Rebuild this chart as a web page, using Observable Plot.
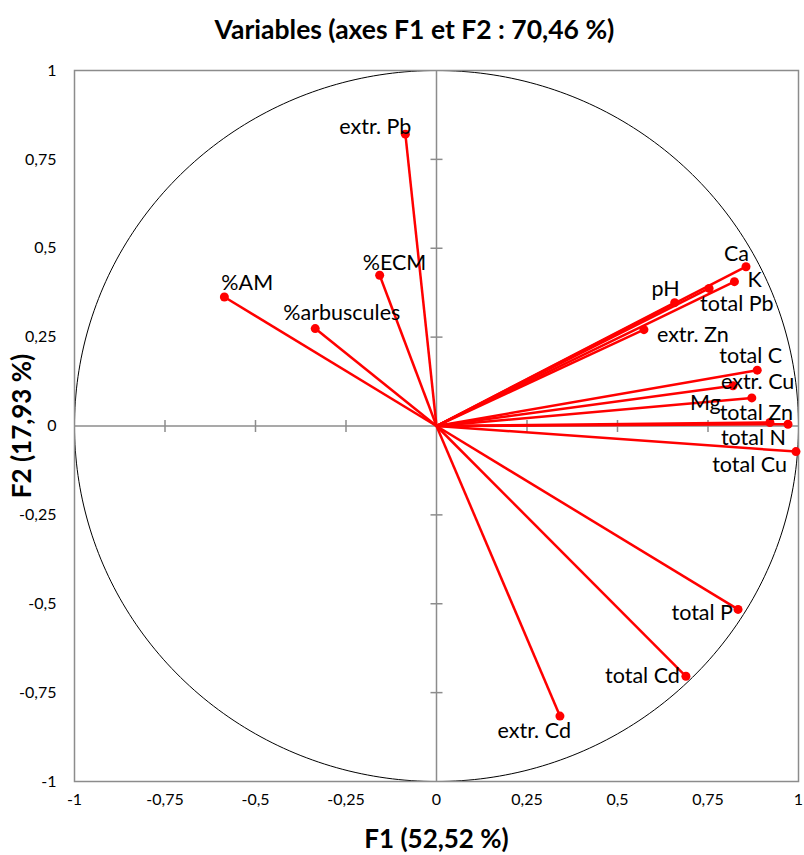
<!DOCTYPE html>
<html>
<head>
<meta charset="utf-8">
<script src="https://cdn.jsdelivr.net/npm/d3@7"></script>
<script src="https://cdn.jsdelivr.net/npm/@observablehq/plot@0.6"></script>
<style>
  html, body { margin: 0; padding: 0; background: #fff; }
  #chart svg { display: block; }
</style>
</head>
<body>
<div id="chart"></div>
<script>
// ---- data ----
const variables = ["extr. Pb", "%ECM", "%AM", "%arbuscules", "Ca", "K", "total Pb", "pH", "extr. Zn",
  "total C", "extr. Cu", "Mg", "total Zn", "total N", "total Cu", "total P", "total Cd", "extr. Cd"];
const f1 = [-0.086, -0.157, -0.586, -0.335, 0.855, 0.823, 0.753, 0.658, 0.573,
  0.886, 0.819, 0.871, 0.921, 0.971, 0.993, 0.833, 0.689, 0.341];
const f2 = [0.821, 0.424, 0.363, 0.274, 0.448, 0.406, 0.387, 0.347, 0.271,
  0.157, 0.113, 0.079, 0.010, 0.005, -0.072, -0.516, -0.704, -0.816];
const tickValues = [-1, -0.75, -0.5, -0.25, 0, 0.25, 0.5, 0.75, 1];
const titleText = "Variables (axes F1 et F2 : 70,46 %)";
const xLabel = "F1 (52,52 %)";
const yLabel = "F2 (17,93 %)";

// ---- label placement (style) ----
const labelPlacement = {
  "extr. Pb": ["end", 6, -7],
  "%ECM": ["start", -17, -12],
  "%AM": ["start", -3, -14],
  "%arbuscules": ["start", -32, -15],
  "Ca": ["end", 3, -13],
  "K": ["start", 13, -2],
  "total Pb": ["start", -9, 16],
  "pH": ["end", 5, -14],
  "extr. Zn": ["start", 13, 5],
  "total C": ["end", 25, -14],
  "extr. Cu": ["start", -12, -4],
  "Mg": ["end", -31, 5],
  "total Zn": ["end", 23, -9],
  "total N": ["end", -2, 14],
  "total Cu": ["end", -9, 14],
  "total P": ["end", -5, 4],
  "total Cd": ["end", -6, 0],
  "extr. Cd": ["end", 11, 15]
};

const data = variables.map((name, i) => ({name, x: f1[i], y: f2[i]}));
const circle = d3.range(0, 361).map(a => ({x: Math.cos(a * Math.PI / 180), y: Math.sin(a * Math.PI / 180)}));
const fmt = d => String(d).replace(".", ",");
const innerTicks = tickValues.filter(d => d !== 0 && Math.abs(d) !== 1);

const vTick = {draw(ctx) { ctx.moveTo(0, -6); ctx.lineTo(0, 6); }};
const hTick = {draw(ctx) { ctx.moveTo(-6, 0); ctx.lineTo(6, 0); }};

const font = "Lato, 'Open Sans', sans-serif";
const gray = "#8c8c8c";

const labelMarks = data.map(d => {
  const [anchor, dx, dy] = labelPlacement[d.name];
  return Plot.text([d], {x: "x", y: "y", text: "name", textAnchor: anchor, dx, dy,
    fontSize: 21.5, fill: "#000", lineAnchor: "middle"});
});

const chart = Plot.plot({
  width: 804,
  height: 855,
  marginTop: 70,
  marginBottom: 74,
  marginLeft: 74,
  marginRight: 6,
  style: {fontFamily: font, background: "#fff", color: "#000"},
  x: {domain: [-1, 1]},
  y: {domain: [-1, 1]},
  marks: [
    Plot.ruleX([0], {stroke: gray, strokeWidth: 1.5}),
    Plot.ruleY([0], {stroke: gray, strokeWidth: 1.5}),
    Plot.dot(innerTicks, {x: d => d, y: () => 0, symbol: vTick, stroke: gray, strokeWidth: 1.5, fill: "none"}),
    Plot.dot(innerTicks, {x: () => 0, y: d => d, symbol: hTick, stroke: gray, strokeWidth: 1.5, fill: "none"}),
    Plot.line(circle, {x: "x", y: "y", stroke: "#000", strokeWidth: 1}),
    Plot.frame({stroke: gray, strokeWidth: 1.5}),
    Plot.axisX({ticks: tickValues, tickFormat: fmt, tickSize: 0, tickPadding: 12, fontSize: 16, label: null, anchor: "bottom"}),
    Plot.axisY({ticks: tickValues, tickFormat: fmt, tickSize: 0, tickPadding: 18, fontSize: 16, label: null, anchor: "left"}),
    Plot.link(data, {x1: () => 0, y1: () => 0, x2: "x", y2: "y", stroke: "#ff0000", strokeWidth: 2.5}),
    Plot.dot(data, {x: "x", y: "y", r: 4.5, fill: "#ff0000", stroke: "none"}),
    ...labelMarks,
    Plot.text([titleText], {frameAnchor: "top", textAnchor: "middle", dx: -22, dy: -40, text: d => d, fontSize: 26.5, fontWeight: "bold", fill: "#000", lineAnchor: "middle"}),
    Plot.text([xLabel], {frameAnchor: "bottom", textAnchor: "middle", dy: 58, text: d => d, fontSize: 26, fontWeight: "bold", fill: "#000", lineAnchor: "middle"}),
    Plot.text([yLabel], {frameAnchor: "left", textAnchor: "middle", dx: -52, rotate: -90, text: d => d, fontSize: 26, fontWeight: "bold", fill: "#000", lineAnchor: "middle"})
  ]
});
document.getElementById("chart").appendChild(chart);
</script>
</body>
</html>
